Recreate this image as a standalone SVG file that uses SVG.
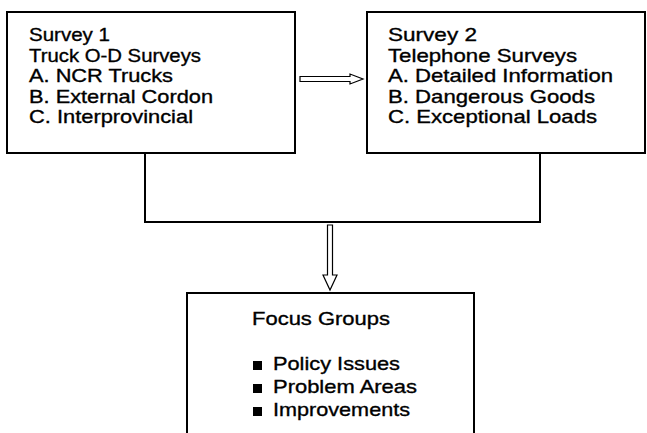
<svg xmlns="http://www.w3.org/2000/svg" width="647" height="433" viewBox="0 0 647 433">
<style>
.box{fill:#fff;stroke:#000;stroke-width:2}
.t{font-family:"Liberation Sans",Arial,sans-serif;font-size:19px;fill:#000;stroke:#000;stroke-width:0.35}
.c{fill:none;stroke:#000;stroke-width:2}
.ar{fill:#fff;stroke:#000;stroke-width:1.2}
</style>
<rect width="647" height="433" fill="#fff"/>
<g id="connectors">
<path class="c" d="M145,153 V222 H540 V153"/>
<path class="ar" d="M300,76.5 H350 V74 L363,79 L350,84 V81.5 H300 Z"/>
<path class="ar" d="M327.5,225 H332.5 V275 H337 L330,290 L323,275 H327.5 Z"/>
</g>
<g id="survey1">
<rect class="box" x="7" y="12" width="288" height="141"/>
<text class="t" x="29" y="41" textLength="81" lengthAdjust="spacingAndGlyphs">Survey 1</text>
<text class="t" x="29" y="61.5" textLength="172" lengthAdjust="spacingAndGlyphs">Truck O-D Surveys</text>
<text class="t" x="29" y="82" textLength="144" lengthAdjust="spacingAndGlyphs">A. NCR Trucks</text>
<text class="t" x="29" y="102.5" textLength="184" lengthAdjust="spacingAndGlyphs">B. External Cordon</text>
<text class="t" x="29" y="123" textLength="164" lengthAdjust="spacingAndGlyphs">C. Interprovincial</text>
</g>
<g id="survey2">
<rect class="box" x="367" y="12" width="278" height="141"/>
<text class="t" x="388" y="41" textLength="89" lengthAdjust="spacingAndGlyphs">Survey 2</text>
<text class="t" x="388" y="61.5" textLength="189" lengthAdjust="spacingAndGlyphs">Telephone Surveys</text>
<text class="t" x="388" y="82" textLength="225" lengthAdjust="spacingAndGlyphs">A. Detailed Information</text>
<text class="t" x="388" y="102.5" textLength="207" lengthAdjust="spacingAndGlyphs">B. Dangerous Goods</text>
<text class="t" x="388" y="123" textLength="209" lengthAdjust="spacingAndGlyphs">C. Exceptional Loads</text>
</g>
<g id="focus">
<path class="c" d="M187,440 V293 H474 V440"/>
<text class="t" x="252" y="325" textLength="138" lengthAdjust="spacingAndGlyphs">Focus Groups</text>
<rect x="253" y="361" width="9" height="9"/>
<rect x="253" y="384" width="9" height="9"/>
<rect x="253" y="407" width="9" height="9"/>
<text class="t" x="273" y="370" textLength="127" lengthAdjust="spacingAndGlyphs">Policy Issues</text>
<text class="t" x="273" y="393" textLength="144" lengthAdjust="spacingAndGlyphs">Problem Areas</text>
<text class="t" x="273" y="416" textLength="137" lengthAdjust="spacingAndGlyphs">Improvements</text>
</g>
</svg>
